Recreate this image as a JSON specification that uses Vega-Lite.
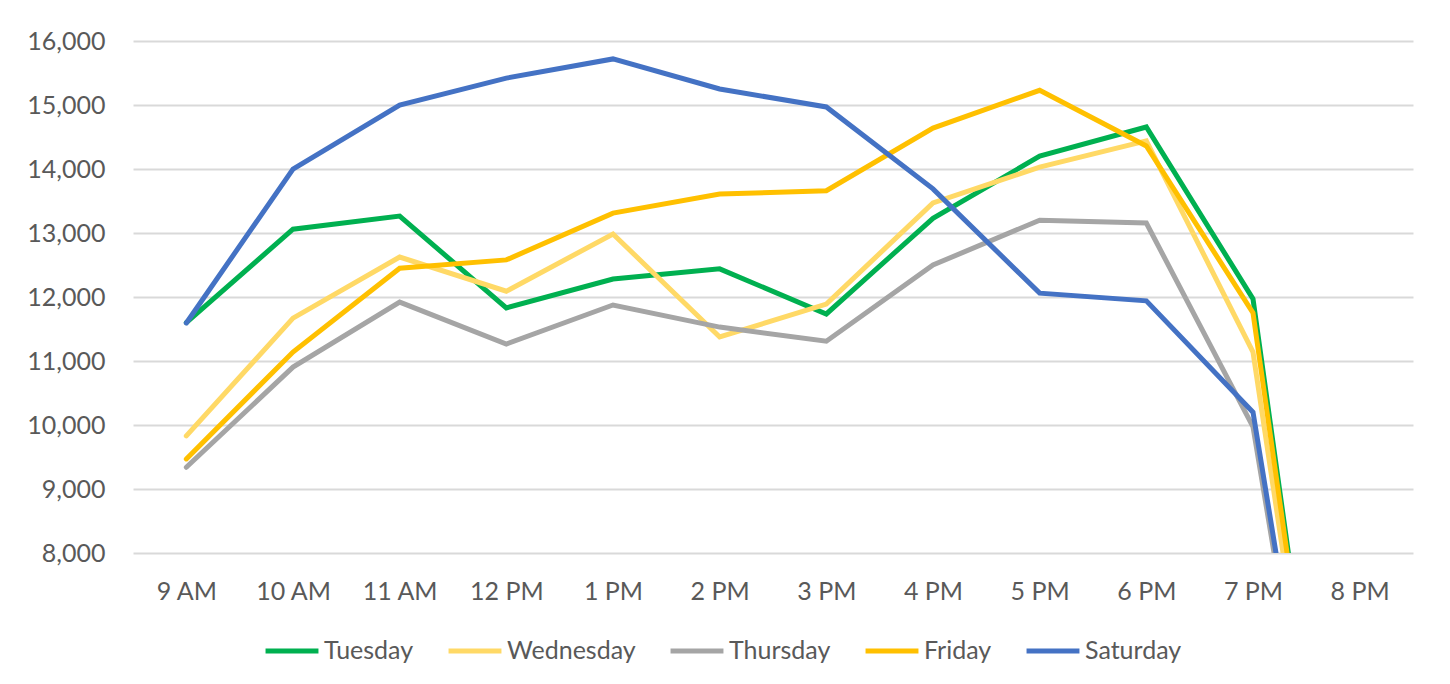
{
  "$schema": "https://vega.github.io/schema/vega-lite/v6.json",
  "autosize": {"type": "none"},
  "width": 1280,
  "height": 512,
  "padding": {"left": 133, "top": 41, "right": 37, "bottom": 131},
  "background": "white",
  "config": {
    "view": {"stroke": null},
    "font": "Lato",
    "axis": {"labelFont": "Lato", "labelColor": "#595959", "labelFontSize": 25, "gridColor": "#d9d9d9", "gridWidth": 2},
    "legend": {"labelFont": "Lato", "labelColor": "#595959", "labelFontSize": 25}
  },
  "data": {
    "values": [
      {"time": "9 AM", "day": "Tuesday", "visitors": 11600},
      {"time": "10 AM", "day": "Tuesday", "visitors": 13060},
      {"time": "11 AM", "day": "Tuesday", "visitors": 13265},
      {"time": "12 PM", "day": "Tuesday", "visitors": 11830},
      {"time": "1 PM", "day": "Tuesday", "visitors": 12280},
      {"time": "2 PM", "day": "Tuesday", "visitors": 12440},
      {"time": "3 PM", "day": "Tuesday", "visitors": 11735},
      {"time": "4 PM", "day": "Tuesday", "visitors": 13230},
      {"time": "5 PM", "day": "Tuesday", "visitors": 14200},
      {"time": "6 PM", "day": "Tuesday", "visitors": 14656},
      {"time": "7 PM", "day": "Tuesday", "visitors": 11970},
      {"time": "8 PM", "day": "Tuesday", "visitors": 0},
      {"time": "9 AM", "day": "Wednesday", "visitors": 9830},
      {"time": "10 AM", "day": "Wednesday", "visitors": 11670},
      {"time": "11 AM", "day": "Wednesday", "visitors": 12625},
      {"time": "12 PM", "day": "Wednesday", "visitors": 12090},
      {"time": "1 PM", "day": "Wednesday", "visitors": 12985},
      {"time": "2 PM", "day": "Wednesday", "visitors": 11375},
      {"time": "3 PM", "day": "Wednesday", "visitors": 11890},
      {"time": "4 PM", "day": "Wednesday", "visitors": 13470},
      {"time": "5 PM", "day": "Wednesday", "visitors": 14030},
      {"time": "6 PM", "day": "Wednesday", "visitors": 14440},
      {"time": "7 PM", "day": "Wednesday", "visitors": 11140},
      {"time": "8 PM", "day": "Wednesday", "visitors": 0},
      {"time": "9 AM", "day": "Thursday", "visitors": 9340},
      {"time": "10 AM", "day": "Thursday", "visitors": 10905},
      {"time": "11 AM", "day": "Thursday", "visitors": 11920},
      {"time": "12 PM", "day": "Thursday", "visitors": 11265},
      {"time": "1 PM", "day": "Thursday", "visitors": 11875},
      {"time": "2 PM", "day": "Thursday", "visitors": 11530},
      {"time": "3 PM", "day": "Thursday", "visitors": 11310},
      {"time": "4 PM", "day": "Thursday", "visitors": 12500},
      {"time": "5 PM", "day": "Thursday", "visitors": 13200},
      {"time": "6 PM", "day": "Thursday", "visitors": 13156},
      {"time": "7 PM", "day": "Thursday", "visitors": 9970},
      {"time": "8 PM", "day": "Thursday", "visitors": 0},
      {"time": "9 AM", "day": "Friday", "visitors": 9470},
      {"time": "10 AM", "day": "Friday", "visitors": 11140},
      {"time": "11 AM", "day": "Friday", "visitors": 12450},
      {"time": "12 PM", "day": "Friday", "visitors": 12580},
      {"time": "1 PM", "day": "Friday", "visitors": 13310},
      {"time": "2 PM", "day": "Friday", "visitors": 13610},
      {"time": "3 PM", "day": "Friday", "visitors": 13660},
      {"time": "4 PM", "day": "Friday", "visitors": 14640},
      {"time": "5 PM", "day": "Friday", "visitors": 15230},
      {"time": "6 PM", "day": "Friday", "visitors": 14360},
      {"time": "7 PM", "day": "Friday", "visitors": 11750},
      {"time": "8 PM", "day": "Friday", "visitors": 0},
      {"time": "9 AM", "day": "Saturday", "visitors": 11594},
      {"time": "10 AM", "day": "Saturday", "visitors": 14000},
      {"time": "11 AM", "day": "Saturday", "visitors": 15000},
      {"time": "12 PM", "day": "Saturday", "visitors": 15420},
      {"time": "1 PM", "day": "Saturday", "visitors": 15720},
      {"time": "2 PM", "day": "Saturday", "visitors": 15250},
      {"time": "3 PM", "day": "Saturday", "visitors": 14970},
      {"time": "4 PM", "day": "Saturday", "visitors": 13690},
      {"time": "5 PM", "day": "Saturday", "visitors": 12060},
      {"time": "6 PM", "day": "Saturday", "visitors": 11940},
      {"time": "7 PM", "day": "Saturday", "visitors": 10200},
      {"time": "8 PM", "day": "Saturday", "visitors": 0}
    ]
  },
  "mark": {"type": "line", "strokeWidth": 5, "strokeCap": "round", "clip": true},
  "encoding": {
    "x": {
      "field": "time", "type": "ordinal",
      "sort": ["9 AM", "10 AM", "11 AM", "12 PM", "1 PM", "2 PM", "3 PM", "4 PM", "5 PM", "6 PM", "7 PM", "8 PM"],
      "scale": {"type": "point", "padding": 0.5},
      "axis": {"title": null, "labelAngle": 0, "grid": false, "ticks": false, "domain": false, "labelPadding": 38, "labelBaseline": "middle"}
    },
    "y": {
      "field": "visitors", "type": "quantitative",
      "scale": {"domain": [8000, 16000], "nice": false, "zero": false},
      "axis": {"title": null, "values": [8000, 9000, 10000, 11000, 12000, 13000, 14000, 15000, 16000], "format": ",.0f", "ticks": false, "domain": false, "labelPadding": 28}
    },
    "color": {
      "field": "day", "type": "nominal",
      "scale": {"domain": ["Tuesday", "Wednesday", "Thursday", "Friday", "Saturday"], "range": ["#00B050", "#FFD966", "#A5A5A5", "#FFC000", "#4472C4"]},
      "legend": {"title": null, "orient": "none", "legendX": 130, "legendY": 581, "direction": "horizontal", "columns": 5, "symbolType": "stroke", "symbolSize": 2800, "symbolStrokeWidth": 5, "columnPadding": 24, "labelOffset": 3}
    }
  }
}
